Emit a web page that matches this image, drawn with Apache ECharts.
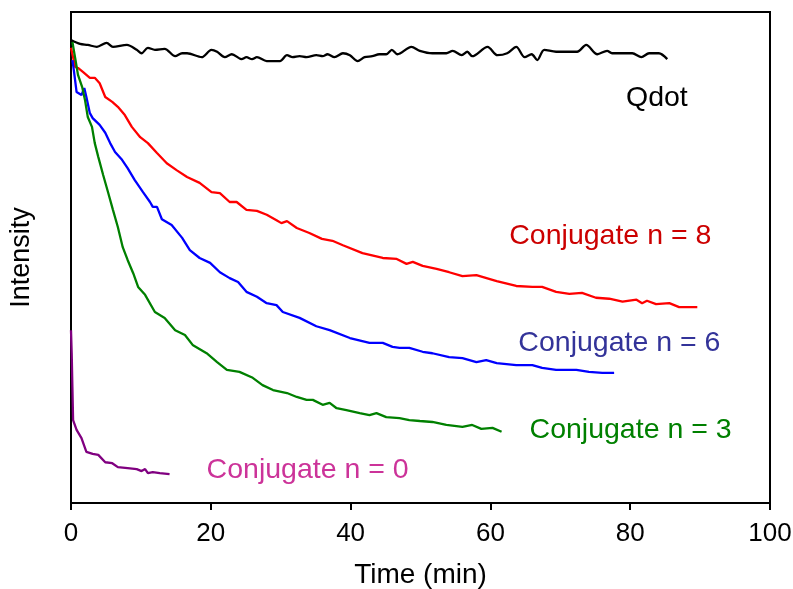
<!DOCTYPE html>
<html>
<head>
<meta charset="utf-8">
<title>Intensity vs time</title>
<script src="https://cdn.jsdelivr.net/npm/echarts@6/dist/echarts.min.js"></script>
<style>
  html, body { margin: 0; padding: 0; background: #fff; }
  #chart { width: 793px; height: 589px; }
</style>
</head>
<body>
<div id="chart"></div>
<script>
// [time (min), intensity (a.u.)]
var qdot = [[0,94.3],[1.3,93.5],[2.4,93.3],[3.7,92.9],[5.1,93.7],[6.0,92.9],[8.0,93.3],[9.4,92.3],[10.1,91.6],[11.0,92.7],[12.0,92.3],[13.4,92.5],[14.9,91.0],[15.9,91.6],[16.6,91.6],[18.7,90.8],[20.1,92.3],[20.9,91.9],[22.0,90.8],[23.0,91.4],[24.4,90.4],[25.1,90.8],[25.9,90.4],[26.6,90.8],[28.0,90.0],[29.9,90.0],[30.9,91.2],[31.7,90.8],[32.7,91.0],[33.7,90.8],[35.1,91.2],[36.0,91.0],[36.7,91.4],[37.7,90.8],[38.9,91.6],[39.9,91.2],[41.0,90.0],[42.0,90.8],[43.1,91.0],[44.1,91.4],[45.1,91.4],[45.9,92.3],[46.7,91.4],[48.7,92.9],[49.9,92.1],[51.7,91.6],[53.7,91.6],[54.6,92.1],[55.9,91.2],[56.7,91.9],[57.4,91.0],[59.6,92.9],[61.0,91.2],[62.4,91.6],[63.7,92.9],[64.9,90.8],[65.9,91.4],[66.7,90.2],[67.7,92.3],[69.4,91.9],[72.4,91.9],[73.7,93.3],[75.3,91.4],[76.7,92.1],[77.4,91.6],[78.9,91.6],[80.3,91.6],[81.6,90.8],[82.7,91.6],[84.1,91.6],[85.3,90.4]];

var conj8 = [[0,92.7],[0.6,88.8],[1.0,88.6],[1.7,87.8],[2.7,86.6],[3.4,86.6],[4.1,85.5],[4.9,82.7],[5.9,81.7],[6.7,80.7],[7.7,79.0],[8.7,76.6],[9.9,74.5],[11.0,73.3],[12.3,71.3],[13.7,69.2],[15.1,67.8],[16.6,66.4],[18.4,65.2],[20.1,63.3],[21.3,63.1],[22.7,61.3],[23.7,61.3],[25.1,59.7],[26.6,59.5],[28.0,58.7],[29.4,57.6],[30.1,57.0],[30.9,57.4],[32.3,56.0],[34.1,55.0],[35.9,53.8],[37.4,53.4],[38.9,52.5],[41.7,50.9],[44.6,49.9],[46.6,49.7],[48.0,48.7],[48.9,49.1],[50.3,48.3],[52.3,47.7],[54.1,47.0],[56.0,46.2],[58.0,46.4],[60.9,45.2],[63.7,44.2],[66.0,44.0],[67.4,44.0],[69.4,43.0],[71.3,42.6],[73.1,42.8],[75.1,41.8],[77.0,41.6],[78.9,41.0],[80.9,41.4],[81.7,40.7],[82.4,41.2],[83.7,40.5],[85.6,40.7],[87.0,39.9],[89.6,39.9]];

var conj6 = [[0.2,90.2],[0.4,88.2],[0.8,83.7],[1.5,83.1],[1.9,84.5],[2.2,82.7],[2.7,79.4],[3.1,78.4],[4.1,77.0],[4.9,75.4],[5.6,73.3],[6.3,71.5],[7.3,69.9],[8.1,68.2],[9.1,65.8],[10.3,63.3],[11.3,61.3],[11.7,60.3],[12.3,60.3],[13.0,57.8],[14.4,56.6],[15.9,54.0],[17.0,51.5],[18.4,49.9],[19.9,48.9],[21.3,47.0],[22.7,45.8],[23.9,45.0],[25.1,43.0],[26.6,42.0],[28.0,40.7],[29.4,40.3],[30.3,38.9],[32.7,37.7],[35.1,36.0],[37.0,35.2],[39.9,33.6],[42.7,32.6],[44.6,32.6],[46.0,31.8],[47.0,31.6],[48.4,31.6],[50.3,30.8],[51.7,30.5],[54.1,29.7],[56.0,29.5],[58.0,28.7],[59.4,29.1],[60.9,28.5],[63.7,28.1],[66.0,28.1],[67.4,27.5],[69.4,27.1],[72.3,27.1],[74.1,26.7],[76.0,26.5],[77.7,26.5]];

var conj3 = [[0.2,93.9],[0.6,90.6],[1.0,87.2],[1.6,84.7],[2.0,82.1],[2.4,78.6],[3.0,76.6],[3.4,73.3],[3.9,70.5],[4.6,66.8],[5.3,63.3],[6.0,59.7],[6.7,56.2],[7.4,52.1],[8.1,49.5],[8.9,46.8],[9.6,44.0],[10.6,42.4],[12.0,38.9],[13.4,37.7],[14.9,35.2],[16.3,34.2],[17.4,32.2],[19.4,30.5],[20.9,28.7],[22.3,27.1],[24.1,26.7],[26.0,25.5],[27.4,24.0],[28.9,23.0],[30.9,22.4],[32.3,21.6],[33.7,21.0],[34.6,21.0],[36.0,20.0],[37.0,20.4],[38.0,19.3],[39.4,18.9],[41.3,18.3],[42.7,17.9],[43.7,18.3],[45.1,17.5],[47.0,17.3],[48.4,16.9],[49.9,16.7],[51.7,16.5],[53.7,15.9],[56.0,15.5],[57.4,15.9],[58.7,15.1],[60.3,15.3],[61.6,14.5]];

var conj0 = [[0,35.2],[0.1,30.5],[0.2,23.6],[0.3,16.9],[0.8,14.9],[1.5,13.2],[2.2,10.4],[3.1,10.0],[3.9,9.8],[4.9,8.3],[5.9,8.1],[6.7,7.3],[8.1,7.1],[9.4,6.9],[10.1,6.5],[10.6,6.9],[11.0,6.1],[11.7,6.3],[12.7,6.1],[14.1,5.9]];

var seriesNames = ['Qdot', 'Conjugate n = 8', 'Conjugate n = 6', 'Conjugate n = 3', 'Conjugate n = 0'];
var xTicks = [0, 20, 40, 60, 80, 100];

// where each series' text sits, in axis units (left edge, vertical middle)
var labelAt = [[79.4, 82.5], [62.7, 54.4], [64.0, 32.6], [65.6, 14.9], [19.4, 6.7]];
var lineColors = ['#000000', '#ff0000', '#0000ff', '#008000', '#800080'];
var textColors = ['#000000', '#cc0000', '#333399', '#008000', '#cc3399'];

var FONT = 'Liberation Sans, Arial, sans-serif';

var chart = echarts.init(document.getElementById('chart'));

function makeSeries(i, data) {
    return {
        name: seriesNames[i],
        type: 'line',
        data: data,
        showSymbol: false,
        smooth: i === 0 ? 0.3 : false,
        lineStyle: { color: lineColors[i], width: 2.3 },
        itemStyle: { color: lineColors[i] },
        animation: false,
        markPoint: {
            symbol: 'circle',
            symbolSize: 0,
            silent: true,
            data: [{
                coord: labelAt[i],
                label: {
                    show: true,
                    position: 'right',
                    distance: 0,
                    formatter: seriesNames[i],
                    color: textColors[i],
                    fontSize: 28.5,
                    fontFamily: FONT
                }
            }]
        }
    };
}

var option = {
    backgroundColor: '#fff',
    animation: false,
    grid: {
        left: 71,
        right: 23,
        top: 12,
        bottom: 86,
        outerBoundsMode: 'none',
        containLabel: false,
        show: true,
        borderColor: '#000',
        borderWidth: 2
    },
    xAxis: {
        type: 'value',
        min: xTicks[0],
        max: xTicks[xTicks.length - 1],
        interval: 20,
        name: 'Time (min)',
        nameLocation: 'middle',
        nameGap: 58,
        nameTextStyle: { color: '#000', fontSize: 28, fontFamily: FONT },
        axisLine: { show: true, onZero: false, lineStyle: { color: '#000', width: 2 } },
        axisTick: { show: true, inside: false, length: 7, lineStyle: { color: '#000', width: 2 } },
        axisLabel: { color: '#000', fontSize: 26, fontFamily: FONT, margin: 18 },
        splitLine: { show: false }
    },
    yAxis: {
        type: 'value',
        min: 0,
        max: 100,
        name: 'Intensity',
        nameLocation: 'middle',
        nameGap: 36,
        nameTextStyle: { color: '#000', fontSize: 27, fontFamily: FONT },
        axisLine: { show: true, lineStyle: { color: '#000', width: 2 } },
        axisTick: { show: false },
        axisLabel: { show: false },
        splitLine: { show: false }
    },
    series: [
        makeSeries(0, qdot),
        makeSeries(1, conj8),
        makeSeries(2, conj6),
        makeSeries(3, conj3),
        makeSeries(4, conj0)
    ]
};

chart.setOption(option);
</script>
</body>
</html>
